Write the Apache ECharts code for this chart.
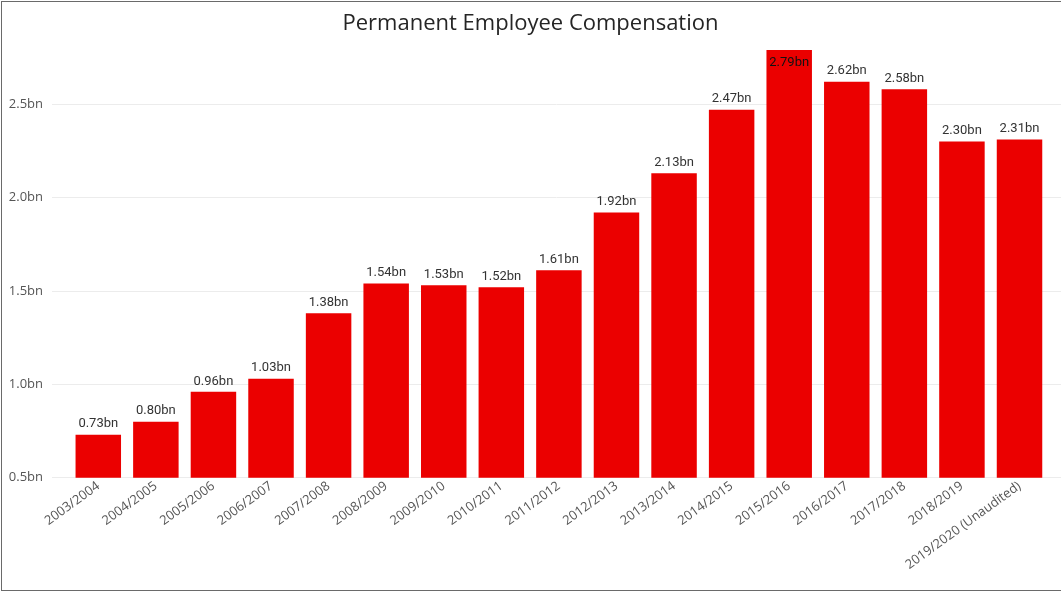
<!DOCTYPE html>
<html>
<head>
<meta charset="utf-8">
<script src="https://cdn.jsdelivr.net/npm/echarts@6/dist/echarts.min.js"></script>
<style>
html,body{margin:0;padding:0;background:#fff;}
#frame{position:absolute;left:1px;top:1px;width:1070px;height:590px;border:1.5px solid #6a6a6a;box-sizing:border-box;}
#chart{position:absolute;left:0;top:0;width:1061px;height:594px;}
</style>
</head>
<body>
<div id="frame"></div>
<div id="chart"></div>
<script>
const categories = ['2003/2004','2004/2005','2005/2006','2006/2007','2007/2008','2008/2009','2009/2010','2010/2011','2011/2012','2012/2013','2013/2014','2014/2015','2015/2016','2016/2017','2017/2018','2018/2019','2019/2020 (Unaudited)'];
const values = [0.73,0.80,0.96,1.03,1.38,1.54,1.53,1.52,1.61,1.92,2.13,2.47,2.79,2.62,2.58,2.30,2.31];
const yMin = 0.5, yMax = 2.8, yInterval = 0.5;
const insideLabelIndex = 12;

const chart = echarts.init(document.getElementById('chart'));
const seriesData = values.map((v, i) => i === insideLabelIndex ? {
  value: v,
  label: { position: 'insideTop', distance: 6, color: '#111' }
} : v);

chart.setOption({
  animation: false,
  title: {
    text: 'Permanent Employee Compensation',
    left: 'center',
    top: 8,
    textStyle: { fontFamily: 'Open Sans', fontSize: 22, fontWeight: 'normal', color: '#252525' }
  },
  grid: [
    { left: 69.5, right: 12.7, top: 48.1, bottom: 116.3 },
    { left: 52, right: 0, top: 48.1, bottom: 116.3 }
  ],
  xAxis: [
    {
      type: 'category', gridIndex: 0, data: categories,
      axisLine: { show: false }, axisTick: { show: false },
      axisLabel: { rotate: 36, margin: 7, interval: 0, fontFamily: 'Open Sans', fontSize: 13, color: '#555' }
    },
    { type: 'value', gridIndex: 1, show: false }
  ],
  yAxis: [
    { type: 'value', gridIndex: 0, min: yMin, max: yMax, interval: yInterval, show: false, splitLine: { show: false } },
    {
      type: 'value', gridIndex: 1, min: yMin, max: yMax, interval: yInterval,
      axisLine: { show: false }, axisTick: { show: false },
      axisLabel: { showMaxLabel: false, margin: 9, fontFamily: 'Open Sans', fontSize: 13, color: '#555',
        formatter: v => v.toFixed(1) + 'bn' },
      splitLine: { showMaxLine: false, lineStyle: { color: '#ececec', width: 1 } }
    }
  ],
  series: [{
    type: 'bar', xAxisIndex: 0, yAxisIndex: 0,
    data: seriesData,
    barCategoryGap: '21%',
    itemStyle: { color: '#EB0000' },
    label: {
      show: true, position: 'top', distance: 4,
      fontFamily: 'Roboto', fontSize: 13, color: '#333',
      formatter: p => p.value.toFixed(2) + 'bn'
    }
  }]
});
</script>
</body>
</html>
